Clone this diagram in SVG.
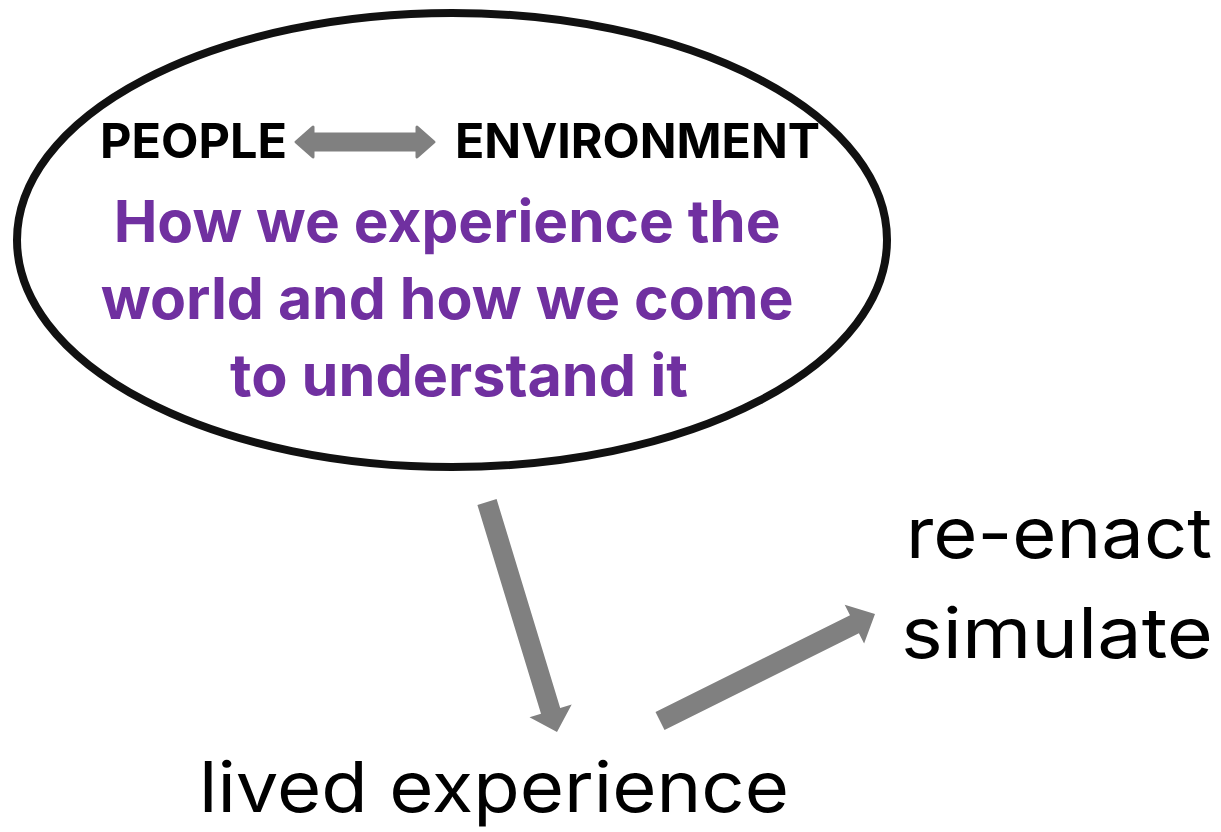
<svg xmlns="http://www.w3.org/2000/svg" width="1221" height="832" viewBox="0 0 1221 832">
<style>
.bold{font-family:"Inter","Open Sans","Liberation Sans",sans-serif;font-weight:700}
.lab{font-family:"Inter","Roboto","Liberation Sans",sans-serif;font-weight:400;fill:#000}
.arr{fill:#808080}
.dbl{fill:#808080;stroke:#808080;stroke-width:3;stroke-linejoin:round}
</style>
<rect width="1221" height="832" fill="#fff"/>
<g id="node-ellipse">
<ellipse cx="452" cy="240" rx="435" ry="227" fill="#fff" stroke="#111" stroke-width="8"/>
<text class="bold" x="100" y="158" font-size="48" fill="#000" textLength="187" lengthAdjust="spacingAndGlyphs">PEOPLE</text>
<text class="bold" x="455" y="158" font-size="48" fill="#000" textLength="365" lengthAdjust="spacingAndGlyphs">ENVIRONMENT</text>
<text class="bold" font-size="58" fill="#7030A0" text-anchor="middle">
<tspan x="454" y="242" textLength="667" lengthAdjust="spacingAndGlyphs">How we experience the</tspan>
<tspan x="454" y="319" textLength="693" lengthAdjust="spacingAndGlyphs">world and how we come</tspan>
<tspan x="459" y="396" textLength="458" lengthAdjust="spacingAndGlyphs">to understand it</tspan>
</text>
</g>
<g id="node-lived">
<text class="lab" x="199" y="812" font-size="70" textLength="590" lengthAdjust="spacingAndGlyphs">lived experience</text>
</g>
<g id="node-reenact">
<text class="lab" x="906" y="558" font-size="70" textLength="306" lengthAdjust="spacingAndGlyphs">re-enact</text>
<text class="lab" x="901" y="658" font-size="70" textLength="312" lengthAdjust="spacingAndGlyphs">simulate</text>
</g>
<g id="connectors">
<polygon class="dbl" points="296,142 313,127 313,134 417,134 417,127 434,142 417,157 417,150 313,150 313,157"/>
<polygon class="arr" points="496.6,499.1 560.2,708.0 571.7,704.5 557,732 529.5,717.3 541.0,713.8 477.4,504.9"/>
<polygon class="arr" points="664.5,730 858.9,633.2 864.1,643.6 875,614 844.7,604.8 850.0,615.3 655.5,712"/>
</g>
</svg>
